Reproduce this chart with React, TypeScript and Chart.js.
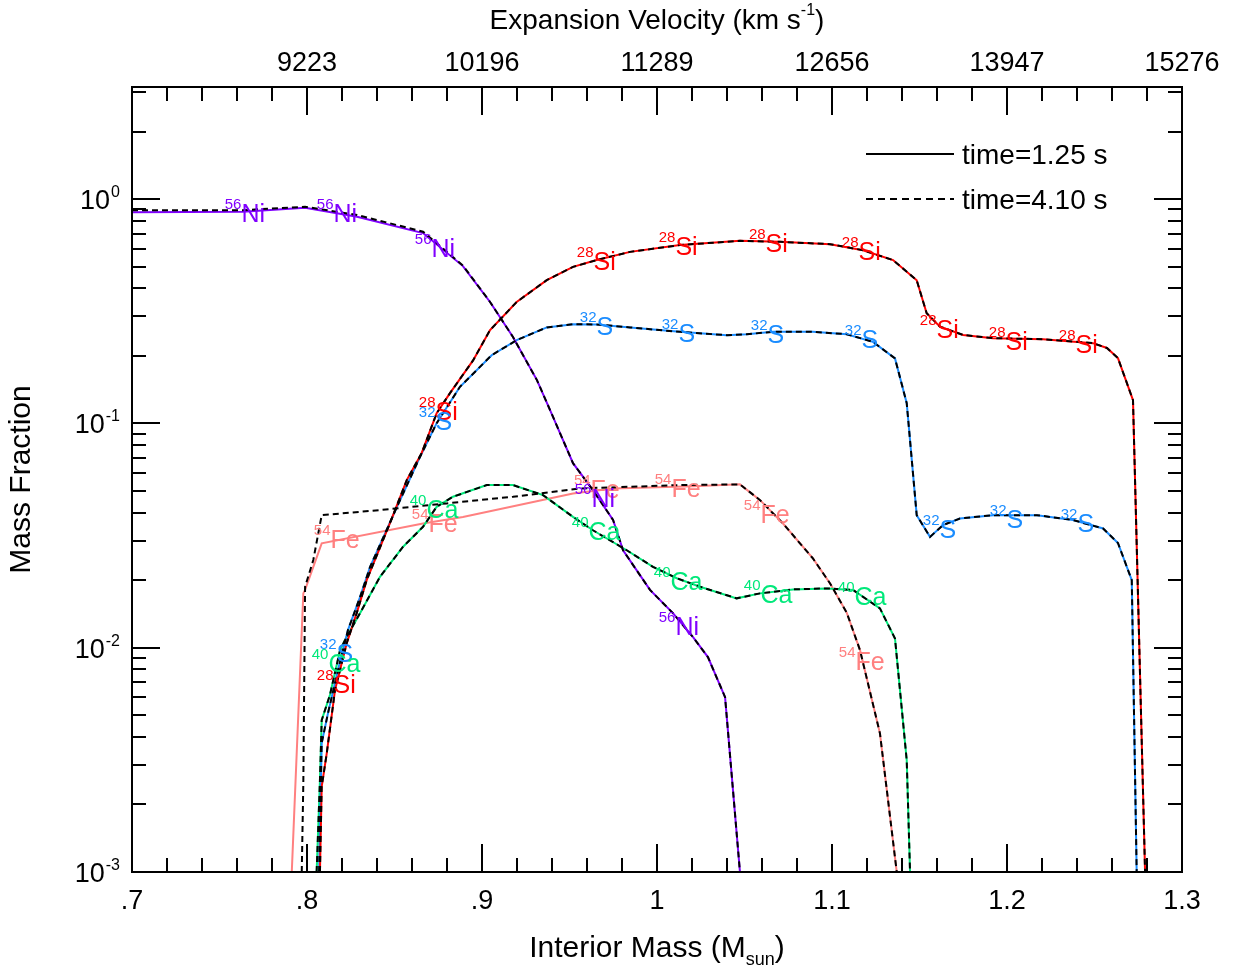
import React, { useEffect, useRef } from 'react';
import { Chart, registerables } from 'chart.js';

Chart.register(...registerables);

const FONT = "'Liberation Sans', Arial, Helvetica, sans-serif";

// ---------- axes ----------
const xMin = 0.7;
const xMax = 1.3;
const yMin = 0.001;
const yMax = 3.1623;
const bottomTickValues = [0.7, 0.8, 0.9, 1.0, 1.1, 1.2, 1.3];
const bottomTickLabels = ['.7', '.8', '.9', '1', '1.1', '1.2', '1.3'];
const topTickValues = [0.8, 0.9, 1.0, 1.1, 1.2, 1.3];
const topTickLabels = ['9223', '10196', '11289', '12656', '13947', '15276'];
const yDecades = [-3, -2, -1, 0];

// ---------- 56Ni ----------
const niX = [0.7, 0.7634, 0.7989, 0.8286, 0.8663, 0.8891, 0.9046, 0.9177, 0.9314, 0.9389, 0.952, 0.9634, 0.9749, 0.9806, 0.996, 1.0091, 1.0206, 1.0291, 1.0389, 1.0474];
const niY125 = [0.875, 0.878, 0.915, 0.834, 0.706, 0.503, 0.348, 0.243, 0.156, 0.1147, 0.0665, 0.0504, 0.0371, 0.0272, 0.0181, 0.01426, 0.01114, 0.00908, 0.00602, 0.001];
const niY410 = [0.892, 0.893, 0.925, 0.85, 0.716, 0.506, 0.348, 0.243, 0.156, 0.1147, 0.0665, 0.0504, 0.0371, 0.0272, 0.0181, 0.01426, 0.01114, 0.00908, 0.00602, 0.001];

// ---------- 28Si ----------
const siX = [0.8074, 0.8084, 0.8113, 0.816, 0.8227, 0.8284, 0.8341, 0.8474, 0.857, 0.8655, 0.8741, 0.8817, 0.8949, 0.9046, 0.9198, 0.937, 0.952, 0.9655, 0.9846, 1.0131, 1.0474, 1.0703, 1.0989, 1.1177, 1.1349, 1.1484, 1.1541, 1.1617, 1.1749, 1.192, 1.2206, 1.2491, 1.2571, 1.2634, 1.272, 1.2789];
const siY125 = [0.001, 0.0024, 0.00339, 0.00647, 0.01048, 0.01426, 0.02, 0.0359, 0.0559, 0.0737, 0.111, 0.1365, 0.191, 0.2606, 0.348, 0.4355, 0.499, 0.535, 0.582, 0.624, 0.652, 0.645, 0.63, 0.592, 0.535, 0.435, 0.31, 0.27, 0.248, 0.24, 0.2375, 0.228, 0.217, 0.1955, 0.127, 0.001];
const siY410 = [0.001, 0.0024, 0.00339, 0.00647, 0.01048, 0.01426, 0.02, 0.0359, 0.0559, 0.0737, 0.111, 0.1365, 0.191, 0.2606, 0.348, 0.4355, 0.499, 0.535, 0.582, 0.624, 0.652, 0.645, 0.63, 0.592, 0.535, 0.435, 0.31, 0.27, 0.248, 0.24, 0.2375, 0.228, 0.217, 0.1955, 0.127, 0.001];

// ---------- 32S ----------
const sX = [0.8069, 0.8084, 0.812, 0.8177, 0.8234, 0.8303, 0.836, 0.8513, 0.8646, 0.8741, 0.8874, 0.9055, 0.9198, 0.937, 0.952, 0.9655, 0.9846, 1.0131, 1.0398, 1.0513, 1.0663, 1.0891, 1.1084, 1.1234, 1.136, 1.1427, 1.1484, 1.156, 1.1634, 1.1731, 1.192, 1.2171, 1.2377, 1.2549, 1.2634, 1.2713, 1.2741];
const sY125 = [0.001, 0.00376, 0.00511, 0.00795, 0.01198, 0.0168, 0.02287, 0.0423, 0.071, 0.1003, 0.1456, 0.2015, 0.235, 0.268, 0.277, 0.2763, 0.268, 0.256, 0.2475, 0.25, 0.256, 0.256, 0.25, 0.231, 0.195, 0.1231, 0.039, 0.0312, 0.0352, 0.0377, 0.039, 0.039, 0.0371, 0.034, 0.0293, 0.02, 0.001];
const sY410 = [0.001, 0.00376, 0.00511, 0.00795, 0.01198, 0.0168, 0.02287, 0.0423, 0.071, 0.1003, 0.1456, 0.2015, 0.235, 0.268, 0.277, 0.2763, 0.268, 0.256, 0.2475, 0.25, 0.256, 0.256, 0.25, 0.231, 0.195, 0.1231, 0.039, 0.0312, 0.0352, 0.0377, 0.039, 0.039, 0.0371, 0.034, 0.0293, 0.02, 0.001];

// ---------- 40Ca ----------
const caX = [0.8055, 0.8074, 0.8084, 0.8131, 0.8189, 0.8227, 0.8303, 0.8417, 0.8549, 0.8663, 0.8741, 0.8834, 0.9027, 0.9177, 0.9349, 0.952, 0.9634, 0.9827, 0.9977, 1.0113, 1.0246, 1.0455, 1.0589, 1.0777, 1.097, 1.112, 1.1274, 1.136, 1.1427, 1.1446];
const caY125 = [0.001, 0.00257, 0.00475, 0.00615, 0.00976, 0.0112, 0.01426, 0.0207, 0.0282, 0.0346, 0.0425, 0.0471, 0.0531, 0.0531, 0.0479, 0.0383, 0.0334, 0.0272, 0.02295, 0.0204, 0.0187, 0.0166, 0.01747, 0.0182, 0.01838, 0.0181, 0.01497, 0.011, 0.00315, 0.001];
const caY410 = [0.001, 0.00257, 0.00475, 0.00615, 0.00976, 0.0112, 0.01426, 0.0207, 0.0282, 0.0346, 0.0425, 0.0471, 0.0531, 0.0531, 0.0479, 0.0383, 0.0334, 0.0272, 0.02295, 0.0204, 0.0187, 0.0166, 0.01747, 0.0182, 0.01838, 0.0181, 0.01497, 0.011, 0.00315, 0.001];

// ---------- 54Fe ----------
const feX125 = [0.7913, 0.7979, 0.7989, 0.8084, 0.8663, 0.8891, 0.952, 0.9749, 1.0206, 1.0474, 1.0589, 1.072, 1.0891, 1.0989, 1.1084, 1.116, 1.1274, 1.137];
const feY125 = [0.001, 0.01746, 0.0181, 0.0292, 0.0358, 0.0383, 0.0487, 0.0513, 0.0525, 0.0535, 0.0455, 0.0358, 0.025, 0.01935, 0.01434, 0.00976, 0.00415, 0.001];
const feX410 = [0.797, 0.7979, 0.7989, 0.8036, 0.8084, 0.8417, 0.8798, 0.9177, 0.956, 1.0131, 1.0474, 1.0589, 1.072, 1.0891, 1.0989, 1.1084, 1.116, 1.1274, 1.137];
const feY410 = [0.001, 0.00249, 0.0187, 0.0246, 0.039, 0.0411, 0.044, 0.0471, 0.0513, 0.0531, 0.0535, 0.0455, 0.0358, 0.025, 0.01935, 0.01434, 0.00976, 0.00415, 0.001];

// ---------- in-plot isotope labels (data coordinates) ----------
const niLabelX = [0.7634, 0.816, 0.872, 0.9634, 1.0114];
const niLabelY = [0.79, 0.79, 0.551, 0.0423, 0.01138];
const siLabelX = [0.816, 0.8743, 0.9646, 1.0114, 1.0629, 1.116, 1.1606, 1.2, 1.24];
const siLabelY = [0.00627, 0.1034, 0.4825, 0.563, 0.58, 0.535, 0.24, 0.212, 0.2058];
const sLabelX = [0.8177, 0.8743, 0.9663, 1.0131, 1.064, 1.1177, 1.1623, 1.2006, 1.2411];
const sLabelY = [0.00862, 0.0933, 0.2475, 0.2304, 0.228, 0.2166, 0.0308, 0.0341, 0.0328];
const caLabelX = [0.8131, 0.8691, 0.9617, 1.0086, 1.06, 1.1137];
const caLabelY = [0.00778, 0.0378, 0.0302, 0.01806, 0.0158, 0.01549];
const feLabelX = [0.8143, 0.8703, 0.9629, 1.0091, 1.06, 1.1143];
const feLabelY = [0.0278, 0.0328, 0.0464, 0.0469, 0.0359, 0.00795];

const legendLabels = ['time=1.25 s', 'time=4.10 s'];

const COLORS = {
  ni: '#8000ff',
  si: '#ff0000',
  s: '#1a8cff',
  ca: '#00e87a',
  fe: '#ff8080',
};

const isotopeLabels = [
  { mass: '54', sym: 'Fe', color: COLORS.fe, xs: feLabelX, ys: feLabelY },
  { mass: '28', sym: 'Si', color: COLORS.si, xs: siLabelX, ys: siLabelY },
  { mass: '32', sym: 'S', color: COLORS.s, xs: sLabelX, ys: sLabelY },
  { mass: '40', sym: 'Ca', color: COLORS.ca, xs: caLabelX, ys: caLabelY },
  { mass: '56', sym: 'Ni', color: COLORS.ni, xs: niLabelX, ys: niLabelY },
];

const pts = (xs: number[], ys: number[]) => xs.map((x, i) => ({ x, y: ys[i] }));

const LINE_W = 2;
const DASH = [6, 4];

const solid = (label: string, xs: number[], ys: number[], color: string) => ({
  label,
  data: pts(xs, ys),
  borderColor: color,
  backgroundColor: color,
  borderWidth: LINE_W,
  pointRadius: 0,
  tension: 0,
  fill: false,
});
const dashed = (label: string, xs: number[], ys: number[]) => ({
  label,
  data: pts(xs, ys),
  borderColor: '#000',
  backgroundColor: '#000',
  borderWidth: LINE_W,
  borderDash: DASH,
  pointRadius: 0,
  tension: 0,
  fill: false,
});

const decorPlugin = {
  id: 'decor',
  afterDatasetsDraw(chart: any) {
    const { ctx, chartArea: a, scales } = chart;
    const xs = scales.x;
    const ys = scales.y;
    ctx.save();

    // isotope labels
    ctx.textBaseline = 'alphabetic';
    for (const lab of isotopeLabels) {
      ctx.fillStyle = lab.color;
      for (let i = 0; i < lab.xs.length; i++) {
        const px = xs.getPixelForValue(lab.xs[i]);
        const py = ys.getPixelForValue(lab.ys[i]);
        ctx.font = `25px ${FONT}`;
        ctx.textAlign = 'left';
        ctx.fillText(lab.sym, px - 1.5, py);
        ctx.font = `15px ${FONT}`;
        ctx.textAlign = 'right';
        ctx.fillText(lab.mass, px - 1.5, py - 13);
      }
    }

    // frame
    ctx.strokeStyle = '#000';
    ctx.lineWidth = 2;
    ctx.setLineDash([]);
    ctx.strokeRect(a.left, a.top, a.right - a.left, a.bottom - a.top);

    // x ticks (bottom & top, inward)
    ctx.beginPath();
    for (let i = 0; i <= 30; i++) {
      const v = xMin + (i * (xMax - xMin)) / 30;
      const len = i % 5 === 0 ? 28 : 14;
      const px = Math.round(xs.getPixelForValue(v));
      ctx.moveTo(px, a.bottom);
      ctx.lineTo(px, a.bottom - len);
      ctx.moveTo(px, a.top);
      ctx.lineTo(px, a.top + len);
    }
    // y ticks (left & right, inward)
    for (const d of yDecades) {
      for (let m = 1; m <= 9; m++) {
        const v = m * Math.pow(10, d);
        if (v > yMax) break;
        const len = m === 1 ? 28 : 14;
        const py = Math.round(ys.getPixelForValue(v));
        ctx.moveTo(a.left, py);
        ctx.lineTo(a.left + len, py);
        ctx.moveTo(a.right, py);
        ctx.lineTo(a.right - len, py);
      }
    }
    ctx.stroke();

    // y tick labels 10^n
    ctx.fillStyle = '#000';
    for (const d of yDecades) {
      const py = ys.getPixelForValue(Math.pow(10, d));
      const exp = String(d);
      ctx.font = `16px ${FONT}`;
      const ew = ctx.measureText(exp).width;
      const right = a.left - 12;
      ctx.textAlign = 'right';
      ctx.textBaseline = 'alphabetic';
      ctx.fillText(exp, right, py - 2);
      ctx.font = `27px ${FONT}`;
      ctx.fillText('10', right - ew - 1, py + 10);
    }

    // bottom title with subscript
    {
      const main1 = 'Interior Mass (M';
      const sub = 'sun';
      const main2 = ')';
      ctx.font = `30px ${FONT}`;
      const w1 = ctx.measureText(main1).width;
      const w3 = ctx.measureText(main2).width;
      ctx.font = `18px ${FONT}`;
      const w2 = ctx.measureText(sub).width;
      const total = w1 + w2 + w3;
      const cx = (a.left + a.right) / 2;
      const x0 = cx - total / 2;
      const by = a.bottom + 85;
      ctx.textAlign = 'left';
      ctx.textBaseline = 'alphabetic';
      ctx.font = `30px ${FONT}`;
      ctx.fillText(main1, x0, by);
      ctx.font = `18px ${FONT}`;
      ctx.fillText(sub, x0 + w1, by + 8);
      ctx.font = `30px ${FONT}`;
      ctx.fillText(main2, x0 + w1 + w2, by);
    }

    // top title with superscript
    {
      const main1 = 'Expansion Velocity (km s';
      const sup = '-1';
      const main2 = ')';
      ctx.font = `28px ${FONT}`;
      const w1 = ctx.measureText(main1).width;
      const w3 = ctx.measureText(main2).width;
      ctx.font = `16px ${FONT}`;
      const w2 = ctx.measureText(sup).width;
      const total = w1 + w2 + w3;
      const cx = (a.left + a.right) / 2;
      const x0 = cx - total / 2;
      const by = 29;
      ctx.textAlign = 'left';
      ctx.font = `28px ${FONT}`;
      ctx.fillText(main1, x0, by);
      ctx.font = `16px ${FONT}`;
      ctx.fillText(sup, x0 + w1, by - 14);
      ctx.font = `28px ${FONT}`;
      ctx.fillText(main2, x0 + w1 + w2, by);
    }

    // left title
    ctx.save();
    ctx.translate(22, (a.top + a.bottom) / 2);
    ctx.rotate(-Math.PI / 2);
    ctx.font = `30px ${FONT}`;
    ctx.textAlign = 'center';
    ctx.textBaseline = 'middle';
    ctx.fillText('Mass Fraction', 0, 0);
    ctx.restore();

    // legend
    const lx0 = a.right - 316;
    const lx1 = a.right - 228;
    const tx = a.right - 220;
    const ly = [a.top + 67, a.top + 112];
    ctx.lineWidth = 2;
    ctx.strokeStyle = '#000';
    for (let i = 0; i < legendLabels.length; i++) {
      ctx.setLineDash(i === 0 ? [] : [7, 5]);
      ctx.beginPath();
      ctx.moveTo(lx0, ly[i]);
      ctx.lineTo(lx1, ly[i]);
      ctx.stroke();
      ctx.setLineDash([]);
      ctx.font = `28px ${FONT}`;
      ctx.textAlign = 'left';
      ctx.textBaseline = 'middle';
      ctx.fillStyle = '#000';
      ctx.fillText(legendLabels[i], tx, ly[i] + 2);
    }

    ctx.restore();
  },
};

export default function App() {
  const ref = useRef<HTMLCanvasElement>(null);
  useEffect(() => {
    const canvas = ref.current;
    if (!canvas) return;
    const chart = new Chart(canvas, {
      type: 'line',
      data: {
        datasets: [
          dashed('Ni 4.10', niX, niY410),
          dashed('Si 4.10', siX, siY410),
          dashed('S 4.10', sX, sY410),
          dashed('Ca 4.10', caX, caY410),
          dashed('Fe 4.10', feX410, feY410),
          solid('Ni 1.25', niX, niY125, COLORS.ni),
          solid('Si 1.25', siX, siY125, COLORS.si),
          solid('S 1.25', sX, sY125, COLORS.s),
          solid('Ca 1.25', caX, caY125, COLORS.ca),
          solid('Fe 1.25', feX125, feY125, COLORS.fe),
        ] as any,
      },
      options: {
        responsive: false,
        devicePixelRatio: 1,
        animation: false,
        events: [],
        layout: { padding: { left: 0, right: 54, top: 0, bottom: 0 } },
        plugins: {
          legend: { display: false },
          tooltip: { enabled: false },
          title: { display: false },
        },
        scales: {
          x: {
            type: 'linear',
            position: 'bottom',
            min: xMin,
            max: xMax,
            grid: { display: false, drawTicks: false },
            border: { display: false },
            afterBuildTicks: (s: any) => {
              s.ticks = bottomTickValues.map((v) => ({ value: v }));
            },
            ticks: {
              autoSkip: false,
              maxRotation: 0,
              minRotation: 0,
              padding: 13,
              color: '#000',
              font: { family: FONT, size: 27 },
              callback: (_v: any, i: number) => bottomTickLabels[i],
            },
            afterFit: (s: any) => {
              s.height = 101;
            },
          },
          x2: {
            type: 'linear',
            position: 'top',
            min: xMin,
            max: xMax,
            grid: { display: false, drawTicks: false },
            border: { display: false },
            afterBuildTicks: (s: any) => {
              s.ticks = topTickValues.map((v) => ({ value: v }));
            },
            ticks: {
              autoSkip: false,
              maxRotation: 0,
              minRotation: 0,
              padding: 7,
              color: '#000',
              font: { family: FONT, size: 27 },
              callback: (_v: any, i: number) => topTickLabels[i],
            },
            afterFit: (s: any) => {
              s.height = 87;
            },
          },
          y: {
            type: 'logarithmic',
            position: 'left',
            min: yMin,
            max: yMax,
            grid: { display: false, drawTicks: false },
            border: { display: false },
            ticks: { display: false },
            afterFit: (s: any) => {
              s.width = 132;
            },
          },
        },
      } as any,
      plugins: [decorPlugin],
    });
    return () => chart.destroy();
  }, []);

  return (
    <div style={{ position: 'fixed', left: 0, top: 0, width: 1236, height: 973, background: '#fff' }}>
      <canvas ref={ref} width={1236} height={973} style={{ display: 'block', width: 1236, height: 973 }} />
    </div>
  );
}
